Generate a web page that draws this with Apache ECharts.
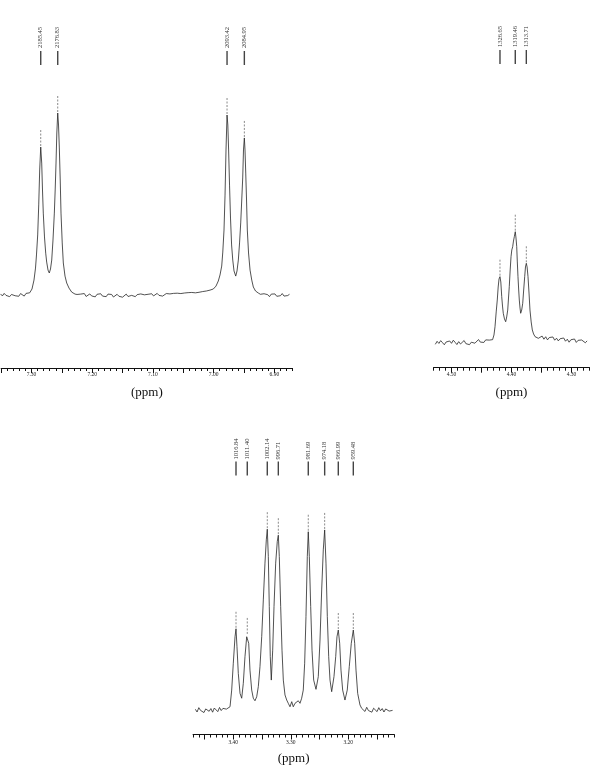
<!DOCTYPE html>
<html><head><meta charset="utf-8">
<script src="https://cdn.jsdelivr.net/npm/echarts@6/dist/echarts.min.js"></script>
<style>html,body{margin:0;padding:0;background:#fff}#c{width:590px;height:776px}</style>
</head><body><div id="c"></div>
<script>
// ---------- Panel 1 (aromatic region) ----------
const spec1 = [
[7.351,0.6],[7.348,-0.5],[7.345,0.9],[7.342,-0.2],[7.339,0.4],[7.336,-0.9],[7.333,0.3],[7.330,1.0],[7.327,-0.4],[7.324,0.5],[7.321,-0.7],[7.318,0.8],[7.315,0.1],[7.312,-0.6],[7.309,0.9],[7.306,0.4],[7.303,1.2],
[7.2992,3.3],[7.2959,8.2],[7.2934,14.8],[7.2918,22],[7.2898,33],[7.2881,49.5],[7.2865,68.7],[7.2848,81.3],[7.2832,72.5],[7.2819,57.7],[7.2806,45],[7.2786,31.9],[7.2766,23],[7.2750,18.1],[7.2728,13.7],[7.2707,12.1],[7.2687,14.3],[7.2667,19.2],[7.2646,30.2],[7.2624,45],[7.2610,57.7],[7.2596,72.5],[7.2583,89],[7.2568,100],[7.2555,93.4],[7.2542,81.3],[7.2527,63.2],[7.2514,45],[7.2494,28.6],[7.2476,17.6],[7.2448,10.4],[7.2420,6.6],[7.2382,3.8],[7.2338,1.6],[7.2283,0.5],
[7.225,0.3],[7.222,-0.6],[7.219,0.5],[7.216,-0.2],[7.213,0.8],[7.210,-0.8],[7.207,0.2],[7.204,0.6],[7.201,-0.5],[7.198,0.1],[7.195,-1.0],[7.192,0.4],[7.189,-0.3],[7.186,0.7],[7.183,-0.6],[7.180,0.2],[7.177,-0.9],[7.174,0.5],[7.171,-0.4],[7.168,0.3],[7.165,-1.1],[7.162,-0.2],[7.159,0.4],[7.156,-0.7],[7.153,0.1],[7.150,-1.2],[7.147,-0.3],[7.144,0.5],[7.141,-0.8],[7.138,-1.3],[7.135,-0.2],[7.132,0.3],[7.129,-0.9],[7.126,0.2],[7.123,-0.5],[7.120,0.6],[7.117,-0.4],[7.114,0.1],[7.111,-0.8],[7.108,0.4],[7.105,-0.3],[7.102,0.7],[7.099,-0.5],[7.096,0.2],[7.093,0.9],[7.090,-0.2],[7.087,0.5],[7.084,-0.6],[7.081,0.3],[7.078,0.8],[7.075,-0.1],[7.072,0.6],[7.069,-0.4],[7.066,0.9],[7.063,0.2],[7.060,1.0],[7.057,0.3],[7.054,0.8],[7.051,-0.2],[7.048,1.1],[7.045,0.5],[7.042,1.3],[7.039,0.7],[7.036,1.4],[7.033,0.9],[7.030,1.2],[7.027,0.8],[7.024,1.5],[7.021,1.1],[7.018,1.9],[7.015,1.6],[7.012,2.2],[7.009,2.0],
[7.0059,2.7],[7.0005,3.3],[6.9961,4.9],[6.9923,7.7],[6.9895,11],[6.9867,15.9],[6.9849,23.6],[6.9829,35.7],[6.9812,54.9],[6.9796,79.7],[6.9779,98.9],[6.9766,93.4],[6.9753,79.7],[6.9738,60.4],[6.9722,42.3],[6.9704,27.5],[6.9685,19.2],[6.9664,13.2],[6.9636,10.4],[6.9615,13.2],[6.9593,19.2],[6.9573,28.6],[6.9554,39.6],[6.9537,52.2],[6.9521,64.3],[6.9508,79.7],[6.9494,86.3],[6.9483,79.7],[6.9471,67],[6.9458,52.2],[6.9445,35.7],[6.9425,23.1],[6.9400,13.7],[6.9372,8.2],[6.9346,4.4],[6.9310,2.2],[6.9264,1.1],
[6.923,0.4],[6.920,-0.5],[6.917,0.7],[6.914,-0.3],[6.911,0.2],[6.908,-0.9],[6.905,0.5],[6.902,-0.2],[6.899,0.6],[6.896,-0.7],[6.893,0.3],[6.890,-0.4],[6.887,0.8],[6.884,-0.6],[6.881,0.2],[6.878,-0.3],[6.875,0.4]
];
const peaks1Ppm = [7.2848, 7.2568, 6.9779, 6.9494];
const peaks1Int = [81.3, 100, 98.9, 86.3];
const peaks1Hz  = ['2185.45', '2176.83', '2093.42', '2084.95'];
const axis1Labels = [7.3, 7.2, 7.1, 7.0, 6.9];
const axis1Mid = [7.35, 7.3, 7.25, 7.2, 7.15, 7.1, 7.05, 7.0, 6.95, 6.9];

// ---------- Panel 2 (4.4 ppm multiplet) ----------
const spec2 = [
[4.527,-1.2],[4.524,1.5],[4.521,-0.4],[4.518,2.1],[4.515,0.3],[4.512,-1.6],[4.509,0.9],[4.506,-0.8],[4.503,1.8],[4.500,-0.3],[4.497,2.5],[4.494,0.6],[4.491,-1.4],[4.488,1.2],[4.485,-0.9],[4.482,0.4],[4.479,2.2],[4.476,-0.6],[4.473,1.0],[4.470,-1.5],[4.467,0.7],[4.464,2.0],[4.461,-0.2],[4.458,1.3],[4.455,3.1],[4.452,0.8],[4.449,2.4],[4.446,0.5],[4.443,2.8],[4.440,1.1],[4.437,2.6],[4.434,1.4],[4.4315,3.0],
[4.4292,7.2],[4.4275,14.6],[4.4255,27.9],[4.4237,38.6],[4.4222,50.3],[4.4208,57.5],[4.4192,59.6],[4.4178,54.8],[4.4163,41.6],[4.4150,33.2],[4.4137,26.7],[4.4117,21.6],[4.4097,19.1],[4.4080,23.4],[4.4063,29.6],[4.4050,40.4],[4.4037,50.6],[4.4022,65.6],[4.4008,77.5],[4.3995,83.6],[4.3980,86.5],[4.3967,91.6],[4.3953,95.5],[4.3937,100],[4.3925,94.3],[4.3913,86.5],[4.3903,72.8],[4.3892,59.6],[4.3880,47.6],[4.3870,38.6],[4.3858,31.4],[4.3847,26.7],[4.3830,29.6],[4.3813,35.7],[4.3797,47.6],[4.3780,59.6],[4.3767,68.3],[4.3753,71.6],[4.3740,68.3],[4.3725,59.6],[4.3708,44.9],[4.3692,29.6],[4.3672,18.9],[4.3653,11.7],[4.3632,8.1],[4.3608,5.7],[4.3580,4.5],[4.3553,4.2],
[4.352,4.1],[4.349,6.2],[4.346,3.4],[4.343,5.6],[4.340,2.8],[4.337,4.9],[4.334,3.2],[4.331,5.4],[4.328,2.5],[4.325,4.3],[4.322,1.9],[4.319,3.8],[4.316,2.2],[4.313,4.5],[4.310,1.6],[4.307,3.4],[4.304,0.7],[4.301,2.9],[4.298,1.4],[4.295,3.6],[4.292,0.5],[4.289,2.4],[4.286,0.8],[4.283,2.7],[4.280,1.3],[4.277,0.2],[4.274,1.9]
];
const peaks2Ppm = [4.4192, 4.3937, 4.3753];
const peaks2Int = [59.6, 100, 71.6];
const peaks2Hz  = ['1326.65', '1319.46', '1313.71'];
const axis2Labels = [4.5, 4.4, 4.3];
const axis2Mid = [4.5, 4.45, 4.4, 4.35, 4.3];

// ---------- Panel 3 (3.3 ppm multiplet) ----------
const spec3 = [
[3.466,0.4],[3.463,-1.1],[3.460,1.3],[3.457,-0.2],[3.454,0.9],[3.451,-1.4],[3.448,0.6],[3.445,1.5],[3.442,-0.7],[3.439,0.8],[3.436,-1.2],[3.433,1.1],[3.430,0.2],[3.427,-0.9],[3.424,1.4],[3.421,-0.3],[3.418,0.9],[3.415,2.0],[3.412,0.5],[3.409,1.3],
[3.4057,1.8],[3.4028,11],[3.4000,25.8],[3.3970,40.4],[3.3953,44.8],[3.3936,34.9],[3.3913,20.2],[3.3883,9.2],[3.3854,6.5],[3.3826,14.7],[3.3797,29.4],[3.3767,40.4],[3.3757,41.4],[3.3732,36.8],[3.3710,22],[3.3680,11],[3.3652,6.5],[3.3623,5.1],[3.3593,7.3],[3.3565,12.9],[3.3536,23.9],[3.3506,40.4],[3.3478,60.7],[3.3449,81],[3.3426,93.8],[3.3409,99.7],[3.3391,84.6],[3.3374,57],[3.3357,29.4],[3.3339,16.5],[3.3315,33],[3.3292,57],[3.3263,81],[3.3235,93],[3.3217,96.4],[3.3200,84.6],[3.3176,57],[3.3153,33],[3.3130,16.5],[3.3101,8.3],[3.3071,5.5],[3.3044,3.7],[3.3014,1.8],[3.2984,4.6],[3.2957,1.8],[3.2927,3.7],[3.2897,2.8],[3.2870,5.1],[3.2840,3.7],[3.2811,6.5],[3.2783,11],[3.2759,25.8],[3.2736,51.5],[3.2713,84.6],[3.2696,98.3],[3.2678,84.6],[3.2654,57],[3.2631,33],[3.2602,16.5],[3.2562,11.4],[3.2522,18.4],[3.2492,38.6],[3.2463,66.2],[3.2435,88.3],[3.2411,99.3],[3.2388,81],[3.2365,51.5],[3.2341,29.4],[3.2318,16.5],[3.2289,10.1],[3.2249,18.4],[3.2219,29.4],[3.2197,40.4],[3.2174,44.1],[3.2150,36.8],[3.2127,22],[3.2098,11],[3.2058,5.5],[3.2018,11],[3.1983,23.9],[3.1948,36.8],[3.1913,44.1],[3.1889,36.8],[3.1866,22],[3.1837,9.2],[3.1797,2.8],[3.1767,0.9],
[3.174,1.2],[3.171,-0.8],[3.168,1.5],[3.165,-0.3],[3.162,0.7],[3.159,-1.2],[3.156,1.0],[3.153,0.1],[3.150,-0.9],[3.147,1.3],[3.144,-0.4],[3.141,0.8],[3.138,-1.1],[3.135,0.6],[3.132,1.2],[3.129,-0.6],[3.126,0.4],[3.123,-0.2]
];
const peaks3Ppm = [3.3953, 3.3757, 3.3409, 3.3217, 3.2696, 3.2411, 3.2174, 3.1913];
const peaks3Int = [44.8, 41.4, 99.7, 96.4, 98.3, 99.3, 44.1, 44.1];
const peaks3Hz  = ['1016.84', '1011.40', '1002.14', '996.71', '981.69', '974.18', '966.99', '959.48'];
const axis3Labels = [3.4, 3.3, 3.2];
const axis3Mid = [3.45, 3.4, 3.35, 3.3, 3.25, 3.2, 3.15];

// ---------- layout ----------
const SERIF = '"Liberation Serif", "DejaVu Serif", "Times New Roman", serif';
const panels = [
  { rect:{left:1.15, top:20, width:291.4, height:348}, xMin:6.87, xMax:7.35, yMin:-40.1, yMax:151.1,
    spec:spec1, pp:peaks1Ppm, pi:peaks1Int, hz:peaks1Hz, labels:axis1Labels, mid:axis1Mid,
    textBottom:48, barTop:51, barBottom:65, labelMargin:4, nameGap:18 },
  { rect:{left:433.5, top:20, width:156, height:347.7}, xMin:4.27, xMax:4.53, yMin:-22.2, yMax:290.2,
    spec:spec2, pp:peaks2Ppm, pi:peaks2Int, hz:peaks2Hz, labels:axis2Labels, mid:axis2Mid,
    textBottom:47, barTop:50, barBottom:64, labelMargin:4, nameGap:18 },
  { rect:{left:193.05, top:430, width:201.25, height:304.5}, xMin:3.12, xMax:3.47, yMin:-13.5, yMax:154.4,
    spec:spec3, pp:peaks3Ppm, pi:peaks3Int, hz:peaks3Hz, labels:axis3Labels, mid:axis3Mid,
    textBottom:459.5, barTop:461.5, barBottom:475.5, labelMargin:5, nameGap:18 }
];

const grid = [], xAxis = [], yAxis = [], series = [];
panels.forEach((P, i) => {
  const gMain = grid.length;
  grid.push(Object.assign({containLabel:false, outerBoundsMode:'none'}, P.rect));
  grid.push(Object.assign({containLabel:false, outerBoundsMode:'none'}, P.rect));
  xAxis.push({
    type:'value', gridIndex:gMain, min:P.xMin, max:P.xMax, inverse:true, interval:0.01,
    axisLine:{show:true, onZero:false, lineStyle:{color:'#111', width:1}},
    axisTick:{show:true, inside:false, length:3, lineStyle:{color:'#111', width:1}},
    axisLabel:{show:true, customValues:P.labels, formatter:v => v.toFixed(2),
      fontSize:5.5, fontFamily:SERIF, color:'#222', margin:P.labelMargin},
    splitLine:{show:false},
    name:'(ppm)', nameLocation:'middle', nameGap:P.nameGap,
    nameTextStyle:{fontFamily:SERIF, fontSize:13, color:'#111'}
  });
  xAxis.push({
    type:'value', gridIndex:gMain+1, min:P.xMin, max:P.xMax, inverse:true,
    axisLine:{show:false, onZero:false},
    axisTick:{show:true, inside:false, length:5, customValues:P.mid, lineStyle:{color:'#111', width:1}},
    axisLabel:{show:false}, splitLine:{show:false}
  });
  yAxis.push({type:'value', gridIndex:gMain, min:P.yMin, max:P.yMax, show:false});
  yAxis.push({type:'value', gridIndex:gMain+1, min:0, max:1, show:false});

  series.push({
    type:'line', xAxisIndex:gMain, yAxisIndex:gMain, data:P.spec,
    symbol:'none', showSymbol:false, silent:true, animation:false, clip:false,
    lineStyle:{color:'#262626', width:0.8}
  });
  series.push({
    type:'custom', xAxisIndex:gMain, yAxisIndex:gMain, silent:true, animation:false, clip:false,
    data:P.pp.map((p, j) => [p, P.pi[j], j]),
    renderItem:(params, api) => {
      const pt = api.coord([api.value(0), api.value(1)]);
      const j = api.value(2);
      return {
        type:'group',
        children:[
          {type:'line', shape:{x1:pt[0], y1:pt[1]-17, x2:pt[0], y2:pt[1]-1},
           style:{stroke:'#8a8a8a', lineWidth:1, lineDash:[2,1.5]}},
          {type:'line', shape:{x1:pt[0], y1:P.barTop, x2:pt[0], y2:P.barBottom},
           style:{stroke:'#444', lineWidth:1.4}},
          {type:'text', x:pt[0], y:P.textBottom, rotation:Math.PI/2,
           style:{text:P.hz[j], fill:'#333', fontSize:6.5, fontFamily:SERIF, align:'left', verticalAlign:'middle'}}
        ]
      };
    }
  });
});

const chart = echarts.init(document.getElementById('c'), null, {renderer:'canvas'});
chart.setOption({
  backgroundColor:'#ffffff',
  animation:false,
  grid, xAxis, yAxis, series
});
</script>
</body></html>
